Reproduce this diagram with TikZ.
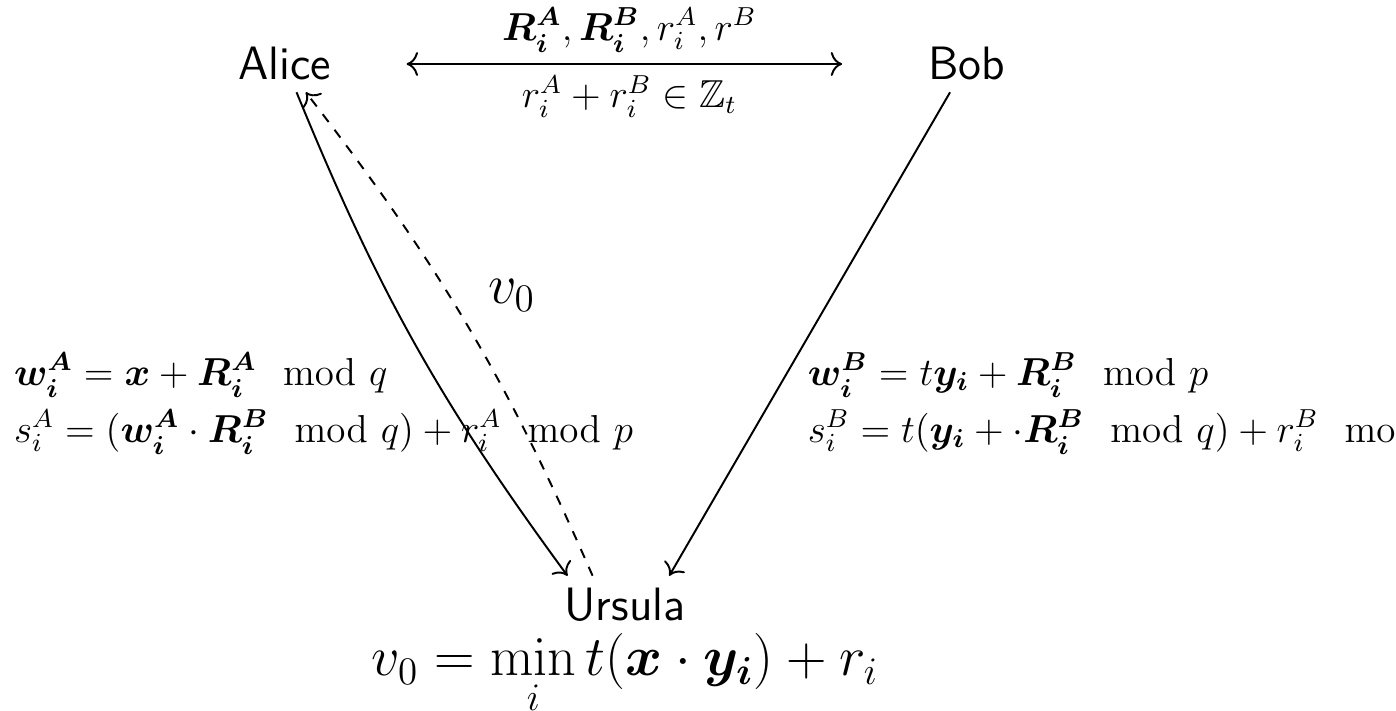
\documentclass[tikz,border=0pt]{standalone}
\usepackage{amsmath,amssymb}
\usetikzlibrary{arrows.meta}
\begin{document}
\begin{tikzpicture}[semithick, >={To[scale=1.2]}, every node/.style={font=\large}, party/.style={font=\Large\sffamily}]
  \useasboundingbox (0,0) rectangle (15.097,-7.689);
  \node[party, anchor=base] (alice) at (3.077,-0.865) {Alice};
  \node[party, anchor=base] (bob) at (10.452,-0.865) {Bob};
  \node[party, anchor=base, align=center] (ursula) at (6.759,-7.310)
    {Ursula\\[-0.8pt] {\LARGE $\displaystyle v_0 = \min_i t(\boldsymbol{x}\cdot\boldsymbol{y_i}) + r_i$}};
  \draw[<->, shorten <=19.7pt, shorten >=22.8pt] (alice) --
    node[above] {$\boldsymbol{R_i^A}, \boldsymbol{R_i^B}, r_i^A, r^B$}
    node[below] {$r_i^A + r_i^B \in \mathbb{Z}_t$} (bob);
  \draw[->] (alice) to[bend right=7] (ursula);
  \draw[->, dashed] (ursula) to[bend right=7] node[midway, above right, xshift=3pt] {\LARGE $v_0$} (alice);
  \draw[->] (bob) -- (ursula);
  \node[anchor=base west, align=left] (formA) at (0.024,-4.780)
    {$\boldsymbol{w_i^A} = \boldsymbol{x} + \boldsymbol{R_i^A} \mod q$\\[3.5pt]
     $s_i^A = (\boldsymbol{w_i^A} \cdot \boldsymbol{R_i^B} \mod q) + r_i^A \mod p$};
  \node[anchor=base west, align=left] (formB) at (8.610,-4.780)
    {$\boldsymbol{w_i^B} = t\boldsymbol{y_i} + \boldsymbol{R_i^B} \mod p$\\[3.5pt]
     $s_i^B = t(\boldsymbol{y_i} + \cdot\boldsymbol{R_i^B} \mod q) + r_i^B \mod p$};
\end{tikzpicture}
\end{document}
